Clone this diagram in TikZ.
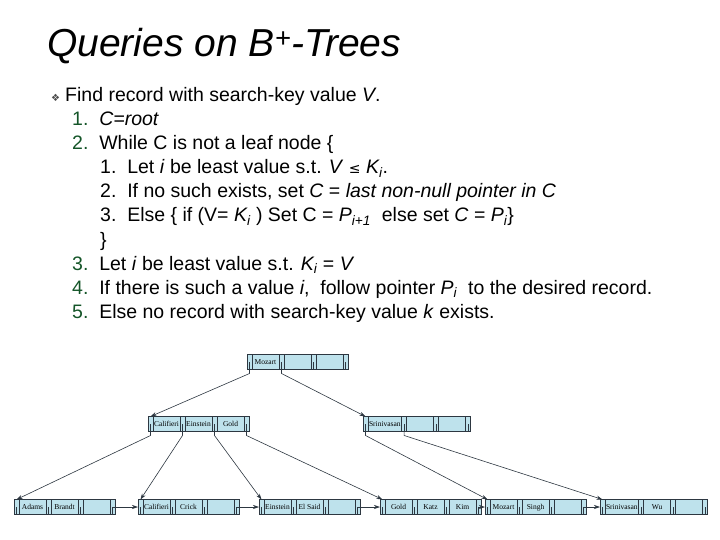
\documentclass[tikz,border=0pt]{standalone}
\usepackage{fontspec}
\setmainfont{Liberation Sans}
\newfontfamily\treefont{Liberation Serif}
\newfontfamily\symfont{DejaVu Sans}
\usetikzlibrary{positioning, arrows.meta}
\definecolor{cellblue}{RGB}{190,226,236}
\definecolor{celledge}{RGB}{45,55,65}
\definecolor{numgreen}{RGB}{20,85,40}
\tikzset{
  line_font/.style = {font=\fontsize{19.5}{22}\selectfont},
  txt/.style = {line_font, anchor=base west, inner sep=0},
  cell/.style = {draw=celledge, fill=cellblue, line width=0.6pt, minimum height=15pt, inner sep=1pt, outer sep=0, text height=5.5pt, text depth=1.5pt, font=\treefont\fontsize{7.5}{8}\selectfont},
  ptr/.style = {cell, minimum width=5pt, inner sep=0},
  keycell/.style = {cell, minimum width=27pt},
  link/.style = {-{Stealth[length=6pt,width=4pt]}, line width=0.6pt, celledge}
}
% one B+-tree node: name, x, y, three keys
\newcommand\bnode[6]{
  \node[ptr, anchor=west] (#1p1) at (#2,#3) {};
  \node[keycell, right=0 of #1p1] (#1k1) {#4};
  \node[ptr, right=0 of #1k1] (#1p2) {};
  \node[keycell, right=0 of #1p2] (#1k2) {#5};
  \node[ptr, right=0 of #1k2] (#1p3) {};
  \node[keycell, right=0 of #1p3] (#1k3) {#6};
  \node[ptr, right=0 of #1k3] (#1p4) {};
  \foreach \p in {p1,p2,p3,p4}{
    \draw[celledge, line width=0.8pt] (#1\p.center) -- (#1\p.south);
  }
}
\begin{document}
\begin{tikzpicture}[x=1pt, y=-1pt, node distance=0]
  \useasboundingbox (0,0) rectangle (720,540);

  % Title
  \node[anchor=base west, inner sep=0, font=\itshape\fontsize{39}{42}\selectfont] (title) at (47,57) {Queries on B\textsuperscript{+}-Trees};

  % Text lines
  \node[anchor=base west, inner sep=0, font=\symfont\fontsize{10}{10}\selectfont, text=black!70] (bul) at (51,102) {❖};
  \node[txt] (l0) at (65,102) {Find record with search-key value \textit{V}.};
  \node[txt] (l1) at (72,126) {\textcolor{numgreen}{1.}\ \ \textit{C=root}};
  \node[txt] (l2) at (72,150) {\textcolor{numgreen}{2.}\ \ While C is not a leaf node \{};
  \node[txt] (l21) at (100,174) {1.\ \ Let \textit{i} be least value s.t. \textit{V} {\symfont\fontsize{14}{14}\selectfont ≤} \textit{K\textsubscript{i}}.};
  \node[txt] (l22) at (100,198) {2.\ \ If no such exists, set \textit{C} = \textit{last non-null pointer in C}};
  \node[txt] (l23) at (100,222) {3.\ \ Else \{ if (V= \textit{K\textsubscript{i}} ) Set C = \textit{P\textsubscript{i+1}} \ else set \textit{C} = \textit{P\textsubscript{i}}\}};
  \node[txt] (l24) at (100,246) {\}};
  \node[txt] (l3) at (72,270) {\textcolor{numgreen}{3.}\ \ Let \textit{i} be least value s.t. \textit{K\textsubscript{i}} = \textit{V}};
  \node[txt] (l4) at (72,294) {\textcolor{numgreen}{4.}\ \ If there is such a value \textit{i}, \ follow pointer \textit{P\textsubscript{i}} \ to the desired record.};
  \node[txt] (l5) at (72,318) {\textcolor{numgreen}{5.}\ \ Else no record with search-key value \textit{k} exists.};

  % Tree nodes
  \bnode{root}{247}{362}{Mozart}{}{}
  \bnode{left}{148}{424}{Califieri}{Einstein}{Gold}
  \bnode{right}{363}{424}{Srinivasan}{}{}
  \bnode{la}{14}{507}{Adams}{Brandt}{}
  \bnode{lb}{138}{507}{Califieri}{Crick}{}
  \bnode{lc}{259}{507}{Einstein}{El Said}{}
  \bnode{ld}{380}{507}{Gold}{Katz}{Kim}
  \bnode{le}{485}{507}{Mozart}{Singh}{}
  \bnode{lf}{600}{507}{Srinivasan}{Wu}{}

  % Pointers
  \draw[link] (rootp1.south) -- ++(0,4) -- (leftp1.north);
  \draw[link] (rootp2.south) -- ++(0,4) -- (rightp1.north);
  \draw[link] (leftp1.south) -- ++(0,4) -- (lap1.north);
  \draw[link] (leftp2.south) -- ++(0,4) -- (lbp1.north);
  \draw[link] (leftp3.south) -- ++(0,4) -- (lcp1.north);
  \draw[link] (leftp4.south) -- ++(0,4) -- (ldp1.north);
  \draw[link] (rightp1.south) -- ++(0,4) -- (lep1.north);
  \draw[link] (rightp2.south) -- ++(0,4) -- (lfp1.north);

  % Leaf chain
  \draw[link] (lap4.center) -- (lbp1.west);
  \draw[link] (lbp4.center) -- (lcp1.west);
  \draw[link] (lcp4.center) -- (ldp1.west);
  \draw[link] (ldp4.center) -- (lep1.west);
  \draw[link] (lep4.center) -- (lfp1.west);
\end{tikzpicture}
\end{document}
